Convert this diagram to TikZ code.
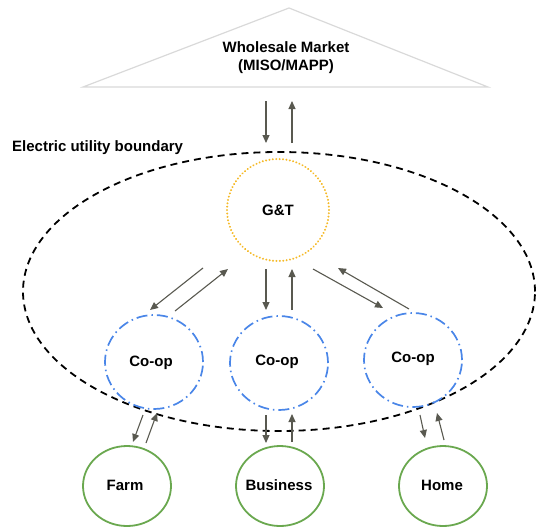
\documentclass[tikz,border=0pt]{standalone}
\usepackage{fontspec}
\setmainfont{Liberation Sans}
\usetikzlibrary{shapes.geometric,arrows.meta}
\definecolor{arr}{RGB}{89,89,80}
\definecolor{trigray}{RGB}{217,217,217}
\definecolor{gtorange}{RGB}{245,186,40}
\definecolor{coopblue}{RGB}{74,134,232}
\definecolor{custgreen}{RGB}{106,168,79}
\begin{document}
\begin{tikzpicture}[x=1pt,y=-1pt,
  font=\fontsize{15}{18}\selectfont\bfseries,
  flow/.style={draw=arr, line width=1.1pt, -{Triangle[length=8pt,width=7pt]}},
  gtnode/.style={circle, draw=gtorange, line width=2.2pt, dash pattern=on 0.01pt off 3.4pt, line cap=round, minimum size=102pt, inner sep=0pt},
  coopnode/.style={ellipse, draw=coopblue, line width=1.7pt, dash pattern=on 11pt off 4pt on 1.5pt off 4pt, minimum width=98pt, minimum height=94pt, inner sep=0pt},
  custnode/.style={ellipse, draw=custgreen, line width=1.8pt, minimum width=88pt, minimum height=80pt, inner sep=0pt},
  boundary/.style={draw=black, line width=1.8pt, dash pattern=on 7pt off 5pt},
  market/.style={draw=trigray, line width=1.2pt}]
\useasboundingbox (0,0) rectangle (537,527);
% wholesale market
\draw[market] (83,87) -- (289,8) -- (488,87) -- cycle;
\node[align=center] (wm) at (286,58) {Wholesale Market\\(MISO/MAPP)};
% boundary
\draw[boundary] (279,291.5) ellipse [x radius=256pt, y radius=139.5pt];
\node[anchor=west, inner sep=0pt] (eub) at (12,148) {Electric utility boundary};
% nodes
\node[gtnode] (gt) at (278,210) {};
\node at (gt.center) {G\&T};
\node[coopnode] (c1) at (154,362) {};
\node[coopnode] (c2) at (279,363) {};
\node[coopnode] (c3) at (413,360) {};
\node at (151,363) {Co-op};
\node at (277,362) {Co-op};
\node at (413,359) {Co-op};
\node[custnode] (farm) at (127,486) {};
\node[custnode] (bus) at (280,486) {};
\node[custnode] (home) at (443,486) {};
\node at (125,485) {Farm};
\node at (279,485) {Business};
\node at (442,485) {Home};
% arrow end points
\coordinate (t1a) at (266,101); \coordinate (t1b) at (266,143);
\coordinate (t2a) at (292,143); \coordinate (t2b) at (292,101);
\coordinate (l1a) at (203,268); \coordinate (l1b) at (150,310);
\coordinate (l2a) at (175,311); \coordinate (l2b) at (228,269);
\coordinate (m1a) at (266,269); \coordinate (m1b) at (266,310);
\coordinate (m2a) at (292,310); \coordinate (m2b) at (292,269);
\coordinate (r1a) at (313,269); \coordinate (r1b) at (383,308);
\coordinate (r2a) at (409,309); \coordinate (r2b) at (338,268);
\coordinate (f1a) at (143,415); \coordinate (f1b) at (133,442);
\coordinate (f2a) at (146,443); \coordinate (f2b) at (157,413);
\coordinate (b1a) at (266,415); \coordinate (b1b) at (266,443);
\coordinate (b2a) at (292,442); \coordinate (b2b) at (292,414);
\coordinate (h1a) at (420,415); \coordinate (h1b) at (425,438);
\coordinate (h2a) at (444,440); \coordinate (h2b) at (437,413);
\foreach \p in {t1,t2,l1,l2,m1,m2,r1,r2,f1,f2,b1,b2,h1,h2}
  \draw[flow] (\p a) -- (\p b);
\end{tikzpicture}
\end{document}
